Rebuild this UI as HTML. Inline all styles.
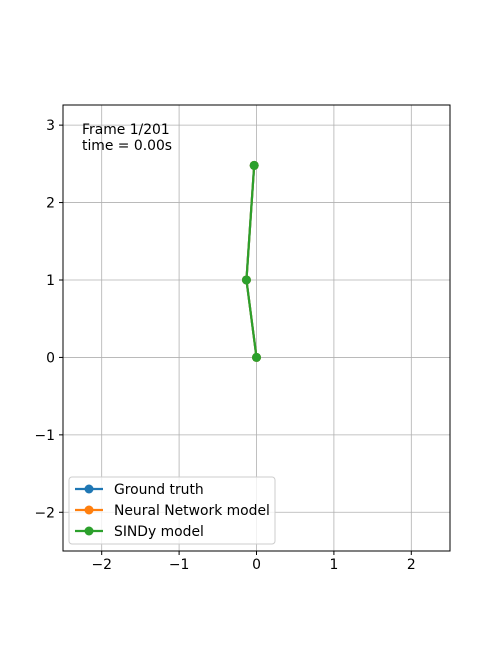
<!DOCTYPE html>
<html><head><meta charset="utf-8"><style>
body{margin:0;background:#fff;}
svg{display:block;font-family:"DejaVu Sans","Liberation Sans",sans-serif;}
</style></head><body>
<svg id="chart" width="500" height="650" viewBox="0 0 500 650">
<rect width="500" height="650" fill="#fff"/>
<g id="grid"></g>
<g id="series"></g>
<rect x="63" y="105" width="387" height="446" fill="none" stroke="#000" stroke-width="1"/>
<g id="ticks"></g>
<text x="82" y="134" font-size="13.9">Frame 1/201</text>
<text x="82" y="150" font-size="13.9">time = 0.00s</text>
<g id="legend"></g>
</svg>
<script>
const xTicks=[-2,-1,0,1,2];
const yTicks=[-2,-1,0,1,2,3];
const seriesNames=["Ground truth","Neural Network model","SINDy model"];
const seriesColors=["#1f77b4","#ff7f0e","#2ca02c"];
const gtX=[0,-0.13,-0.03], gtY=[0,1.0,2.48];
const nnX=[0,-0.13,-0.03], nnY=[0,1.0,2.48];
const sdX=[0,-0.13,-0.03], sdY=[0,1.0,2.48];
const X0=63,X1=450,Y0=551,Y1=105,xmin=-2.5,xmax=2.5,ymin=-2.5,ymax=3.26;
const sx=v=>X0+(v-xmin)/(xmax-xmin)*(X1-X0);
const sy=v=>Y0-(v-ymin)/(ymax-ymin)*(Y0-Y1);
const NS="http://www.w3.org/2000/svg";
function mk(t,a,p){const e=document.createElementNS(NS,t);for(const k in a)e.setAttribute(k,a[k]);p.appendChild(e);return e;}
const grid=document.getElementById('grid'),ticks=document.getElementById('ticks');
const fmt=v=>v<0?"\u2212"+Math.abs(v):String(v);
xTicks.forEach(v=>{const x=sx(v);
 const g=mk('line',{x1:x,x2:x,y1:Y1,y2:Y0,stroke:'#b0b0b0','stroke-width':0.8},grid);
 
 
 mk('line',{x1:x,x2:x,y1:Y0,y2:Y0+4,stroke:'#000'},ticks);
 const t=mk('text',{x:x,y:Y0+18,'font-size':13.9,'text-anchor':'middle'},ticks);t.textContent=fmt(v);
 
 });
yTicks.forEach(v=>{const y=sy(v);
 const g=mk('line',{x1:X0,x2:X1,y1:y,y2:y,stroke:'#b0b0b0','stroke-width':0.8},grid);
 
 
 mk('line',{x1:X0-4,x2:X0,y1:y,y2:y,stroke:'#000'},ticks);
 const t=mk('text',{x:X0-8,y:y+5,'font-size':13.9,'text-anchor':'end'},ticks);t.textContent=fmt(v);
 
 });
const ser=document.getElementById('series');
[[gtX,gtY],[nnX,nnY],[sdX,sdY]].forEach((d,i)=>{
 const g=mk('g',{},ser);
 
 
 mk('polyline',{points:d[0].map((x,j)=>sx(x)+','+sy(d[1][j])).join(' '),fill:'none',stroke:seriesColors[i],'stroke-width':2.2},g);
 d[0].forEach((x,j)=>{const c=mk('circle',{cx:sx(x),cy:sy(d[1][j]),r:4.5,fill:seriesColors[i]},g);
  
  });
});
const lg=document.getElementById('legend');
const box=mk('rect',{x:69,y:477,width:206,height:67,rx:3,fill:'#fff','fill-opacity':0.8,stroke:'#ccc'},lg);


seriesNames.forEach((n,i)=>{const y=489+i*21;
 const g=mk('g',{},lg);
 
 
 mk('line',{x1:75,x2:103,y1:y,y2:y,stroke:seriesColors[i],'stroke-width':2.2},g);
 mk('circle',{cx:89,cy:y,r:4.5,fill:seriesColors[i]},g);
 const t=mk('text',{x:114,y:y+5,'font-size':13.9},g);t.textContent=n;});
</script>
</body></html>
